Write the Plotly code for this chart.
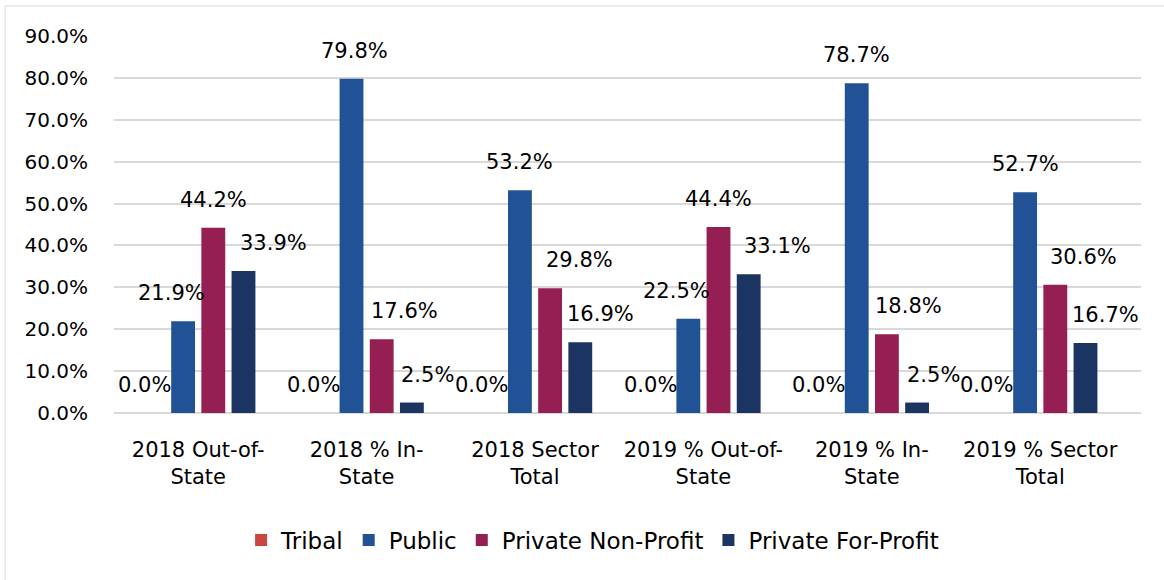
import plotly.graph_objects as go

categories = [
    "2018 Out-of-State",
    "2018 % In-State",
    "2018 Sector Total",
    "2019 % Out-of-State",
    "2019 % In-State",
    "2019 % Sector Total",
]
tick_labels = [
    "2018 Out-of-<br>State",
    "2018 % In-<br>State",
    "2018 Sector<br>Total",
    "2019 % Out-of-<br>State",
    "2019 % In-<br>State",
    "2019 % Sector<br>Total",
]
tribal = [0.0, 0.0, 0.0, 0.0, 0.0, 0.0]
public = [21.9, 79.8, 53.2, 22.5, 78.7, 52.7]
private_nonprofit = [44.2, 17.6, 29.8, 44.4, 18.8, 30.6]
private_forprofit = [33.9, 2.5, 16.9, 33.1, 2.5, 16.7]

series = [
    ("Tribal", tribal, "#C9473F"),
    ("Public", public, "#225296"),
    ("Private Non-Profit", private_nonprofit, "#951E52"),
    ("Private For-Profit", private_forprofit, "#1C3461"),
]

# sideways nudges (px) of the data labels, the way Excel moved them apart
label_nudge = [
    [-8, -8, -8, -8, -8, -8],
    [-12, 3, 0, -12, 0, 0],
    [0, 23, 29, 0, 22, 28],
    [30, 16, 20, 29, 16, 20],
]

FONT = "DejaVu Sans"
BARGAP = 0.283
n_series = len(series)
slot = (1 - BARGAP) / n_series

fig = go.Figure()

for i, (name, vals, color) in enumerate(series):
    fig.add_trace(
        go.Bar(
            name=name,
            x=categories,
            y=vals,
            marker_color=color,
            marker_line_width=0,
            hovertemplate="%{x}<br>" + name + ": %{y:.1f}%<extra></extra>",
        )
    )

annotations = []
for k, (name, vals, color) in enumerate(series):
    for i, v in enumerate(vals):
        annotations.append(
            dict(
                x=i + (k - (n_series - 1) / 2) * slot,
                y=v,
                xref="x",
                yref="y",
                text=f"{v:.1f}%",
                showarrow=False,
                xanchor="center",
                yanchor="middle",
                xshift=label_nudge[k][i],
                yshift=28,
                font=dict(family=FONT, size=21, color="#000000"),
            )
        )

fig.update_layout(
    width=1164,
    height=580,
    margin=dict(l=114, r=23, t=36, b=167),
    barmode="group",
    bargap=BARGAP,
    bargroupgap=0.21,
    plot_bgcolor="white",
    paper_bgcolor="white",
    font=dict(family=FONT, size=21, color="#000000"),
    annotations=annotations,
    legend=dict(
        orientation="h",
        x=0.466,
        xanchor="center",
        y=-0.337,
        yanchor="middle",
        font=dict(family=FONT, size=23, color="#000000"),
        traceorder="normal",
    ),
    shapes=[
        dict(
            type="rect",
            xref="paper",
            yref="paper",
            x0=-0.106,
            x1=1.2,
            y0=-0.6,
            y1=1.0796,
            line=dict(color="#D9D9D9", width=1),
            fillcolor="rgba(0,0,0,0)",
            layer="below",
        )
    ],
)

fig.update_xaxes(
    type="category",
    tickvals=categories,
    ticktext=tick_labels,
    showgrid=False,
    showline=False,
    ticks="",
    ticklabelstandoff=22,
    tickfont=dict(family=FONT, size=21, color="#000000"),
)

fig.update_yaxes(
    range=[0, 90],
    dtick=10,
    tickformat=".1f",
    ticksuffix="%",
    showgrid=True,
    gridcolor="#D9D9D9",
    gridwidth=1.5,
    zeroline=True,
    zerolinecolor="#D9D9D9",
    zerolinewidth=1.5,
    showline=False,
    ticks="",
    ticklabelstandoff=25,
    tickfont=dict(family=FONT, size=20, color="#000000"),
)

fig.write_html(
    "out.html",
    config={"displayModeBar": False},
    post_script="document.body.style.margin = '0px';",
)
